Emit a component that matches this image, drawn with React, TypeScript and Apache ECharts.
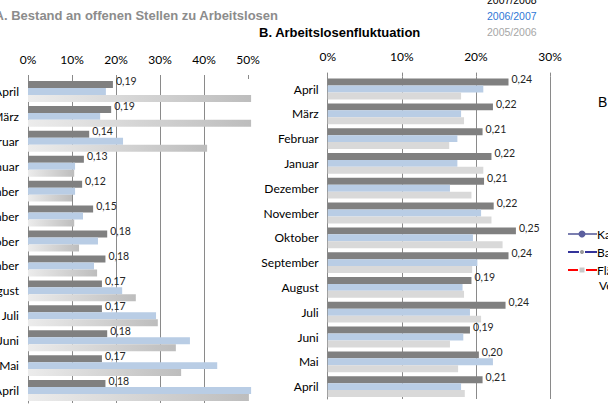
import React, { useEffect, useRef } from "react";
import * as echarts from "echarts";

const months = ["April", "März", "Februar", "Januar", "Dezember", "November", "Oktober", "September", "August", "Juli", "Juni", "Mai", "April"];
const seriesNames = ["2007/2008", "2006/2007", "2005/2006"];

// Chart A: Bestand an offenen Stellen zu Arbeitslosen
const a0708 = [0.193, 0.189, 0.139, 0.127, 0.123, 0.148, 0.180, 0.176, 0.168, 0.168, 0.180, 0.168, 0.176];
const a0607 = [0.177, 0.164, 0.216, 0.107, 0.107, 0.125, 0.159, 0.150, 0.214, 0.291, 0.368, 0.430, 0.510];
const a0506 = [0.520, 0.520, 0.407, 0.105, 0.100, 0.105, 0.116, 0.157, 0.245, 0.295, 0.336, 0.348, 0.502];

// Chart B: Arbeitslosenfluktuation
const b0708 = [0.244, 0.223, 0.209, 0.221, 0.211, 0.224, 0.254, 0.244, 0.194, 0.240, 0.192, 0.204, 0.209];
const b0607 = [0.210, 0.180, 0.175, 0.175, 0.165, 0.207, 0.196, 0.202, 0.182, 0.192, 0.183, 0.223, 0.180];
const b0506 = [0.180, 0.184, 0.164, 0.210, 0.194, 0.221, 0.236, 0.195, 0.184, 0.207, 0.165, 0.176, 0.185];

const ticksA = [0, 0.1, 0.2, 0.3, 0.4, 0.5];
const ticksB = [0, 0.1, 0.2, 0.3];

const DARK = "#808080";
const BLUE = "#b9cde5";
const GRID = "#8a8a8a";
const LABEL_FONT = "Lato";

export default function App() {
  const ref = useRef<HTMLDivElement>(null);
  useEffect(() => {
    if (!ref.current) return;
    const chart = echarts.init(ref.current, null, { renderer: "svg" });
    const pct = (v: number) => Math.round(v * 100) + "%";
    const dec = (p: any) => Number(p.value).toFixed(2).replace(".", ",");
    const xAxisBase = (gridIndex: number, max: number, ticks: number[]) => ({
      type: "value",
      gridIndex,
      position: "top",
      min: 0,
      max,
      interval: 0.1,
      axisLine: { show: false },
      axisTick: { show: true, length: 4, lineStyle: { color: GRID }, customValues: ticks },
      axisLabel: {
        formatter: pct,
        margin: 14,
        fontFamily: LABEL_FONT,
        fontSize: 12,
        color: "#000",
        showMaxLabel: true,
        customValues: ticks,
      },
      splitLine: { show: true, showMaxLine: max === 0.3, lineStyle: { color: GRID, width: 1 } },
    });
    const yAxisBase = (gridIndex: number) => ({
      type: "category",
      gridIndex,
      inverse: true,
      data: months,
      axisLine: { show: true, lineStyle: { color: GRID } },
      axisTick: { show: false },
      axisLabel: { margin: 9, fontFamily: LABEL_FONT, fontSize: 12, color: "#000" },
    });
    const labelCfg = {
      show: true,
      position: "right",
      distance: 3,
      offset: [0, -3],
      formatter: dec,
      fontFamily: LABEL_FONT,
      fontSize: 10.5,
      color: "#262626",
    };
    const gradGray = new echarts.graphic.LinearGradient(0, 0, 1, 0, [
      { offset: 0, color: "#ececec" },
      { offset: 1, color: "#bdbdbd" },
    ]);
    const barCommon = { type: "bar", barGap: "0%", barCategoryGap: "16%", clip: true };
    const txt = (x: number, y: number, text: string, extra: any = {}) => ({
      type: "text",
      x,
      y,
      style: { text, fontFamily: LABEL_FONT, fontSize: 12, fill: "#000", verticalAlign: "middle", ...extra },
    });

    const option: any = {
      animation: false,
      grid: [
        { left: 28, top: 79, width: 223.1, height: 324, outerBoundsMode: "none", containLabel: false },
        { left: 327.7, top: 76.6, width: 222.3, height: 322.4, outerBoundsMode: "none", containLabel: false },
      ],
      xAxis: [xAxisBase(0, 0.507, ticksA), xAxisBase(1, 0.3, ticksB)],
      yAxis: [yAxisBase(0), yAxisBase(1)],
      series: [
        { ...barCommon, name: seriesNames[0], xAxisIndex: 0, yAxisIndex: 0, data: a0708, itemStyle: { color: DARK }, label: labelCfg },
        { ...barCommon, name: seriesNames[1], xAxisIndex: 0, yAxisIndex: 0, data: a0607, itemStyle: { color: BLUE } },
        { ...barCommon, name: seriesNames[2], xAxisIndex: 0, yAxisIndex: 0, data: a0506, itemStyle: { color: gradGray } },
        { ...barCommon, name: seriesNames[0], xAxisIndex: 1, yAxisIndex: 1, data: b0708, itemStyle: { color: DARK }, label: labelCfg },
        { ...barCommon, name: seriesNames[1], xAxisIndex: 1, yAxisIndex: 1, data: b0607, itemStyle: { color: BLUE } },
        { ...barCommon, name: seriesNames[2], xAxisIndex: 1, yAxisIndex: 1, data: b0506, itemStyle: { color: "#d9d9d9" } },
      ],
      graphic: [
        txt(278, 15, "A. Bestand an offenen Stellen zu Arbeitslosen", {
          fontFamily: "Liberation Sans", fontWeight: "bold", fontSize: 13, fill: "#8c8c8c", align: "right",
        }),
        txt(259, 32, "B. Arbeitslosenfluktuation", {
          fontFamily: "Liberation Sans", fontWeight: "bold", fontSize: 13, fill: "#000",
        }),
        txt(487, 0, seriesNames[0], { fontFamily: "Liberation Sans", fontSize: 10.5, fill: "#000" }),
        txt(487, 16, seriesNames[1], { fontFamily: "Liberation Sans", fontSize: 10.5, fill: "#2f78d6" }),
        txt(487, 32, seriesNames[2], { fontFamily: "Liberation Sans", fontSize: 10.5, fill: "#a6a6a6" }),
        txt(598, 102, "B", { fontFamily: "Liberation Sans", fontSize: 14 }),
        // legend fragments of a neighbouring chart
        { type: "line", shape: { x1: 568, y1: 234, x2: 597, y2: 234 }, style: { stroke: "#7b7fb0", lineWidth: 2 } },
        { type: "circle", shape: { cx: 582, cy: 234, r: 3.5 }, style: { fill: "#5b5f9e" } },
        txt(597, 234, "Ka"),
        { type: "line", shape: { x1: 568, y1: 252, x2: 579, y2: 252 }, style: { stroke: "#33339a", lineWidth: 2 } },
        { type: "line", shape: { x1: 585, y1: 252, x2: 597, y2: 252 }, style: { stroke: "#33339a", lineWidth: 2 } },
        { type: "circle", shape: { cx: 582, cy: 252, r: 2 }, style: { fill: "#9a9a9a" } },
        txt(597, 252, "Ba"),
        { type: "line", shape: { x1: 568, y1: 270, x2: 578, y2: 270 }, style: { stroke: "#ff0000", lineWidth: 2 } },
        { type: "line", shape: { x1: 586, y1: 270, x2: 597, y2: 270 }, style: { stroke: "#ff0000", lineWidth: 2 } },
        { type: "rect", shape: { x: 579.5, y: 267.5, width: 5, height: 5 }, style: { fill: "#c8c8c8" } },
        txt(597, 270, "Flä"),
        txt(599, 285, "Ve"),
      ],
    };
    chart.setOption(option);
    return () => chart.dispose();
  }, []);
  return <div ref={ref} style={{ position: "absolute", left: 0, top: 0, width: 608, height: 413, background: "#fff" }} />;
}
